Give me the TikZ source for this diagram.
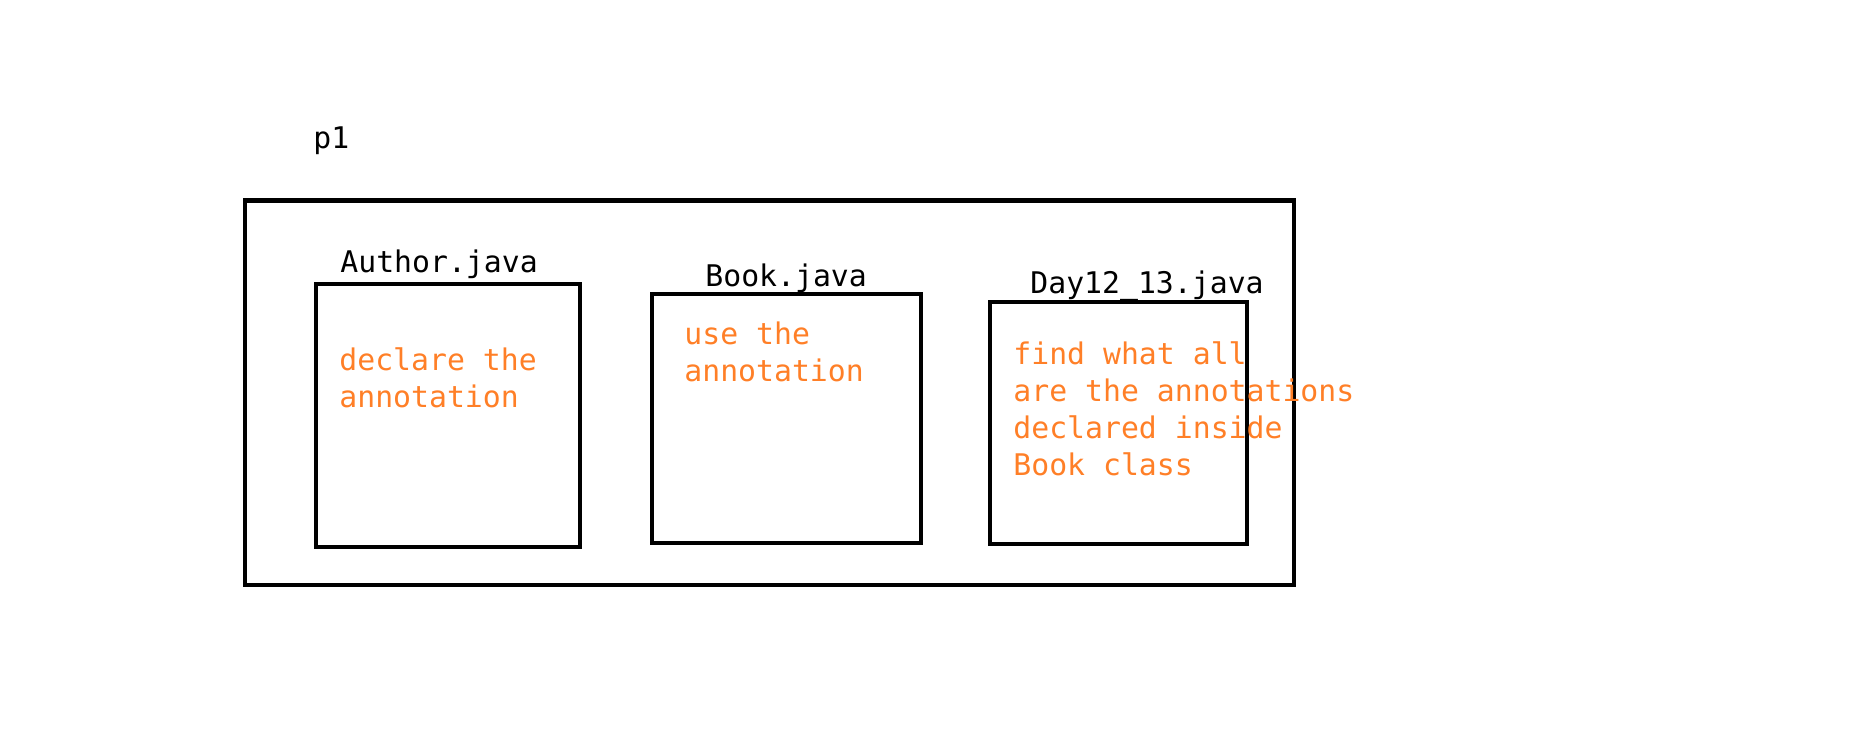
\documentclass[tikz,border=0pt]{standalone}
\usepackage{fontspec}
\setmonofont{DejaVu Sans Mono}
\usepackage{tikz}
\usetikzlibrary{positioning}
\definecolor{paintorange}{HTML}{FF7F27}

\begin{document}
\begin{tikzpicture}[x=0.5pt, y=-0.5pt,
                          packagenode/.style={rectangle, draw, line width=2.4pt, inner sep=0pt},
                          filenode/.style={rectangle, draw, line width=2.4pt, inner sep=0pt},
                          labeltext/.style={inner sep=0pt, anchor=west, font=\fontsize{14.9}{18.5}\selectfont\ttfamily},
                          notetext/.style={inner sep=0pt, anchor=north west, align=left, text=paintorange, font=\fontsize{14.9}{18.5}\selectfont\ttfamily},
                      ]
                      \useasboundingbox (0,0) rectangle (1850,743);
                      %Nodes
                      \node[packagenode, minimum width=524.5pt, minimum height=192.2pt] (p1box)   at (769.5,392.8) {};
                      \node[filenode, minimum width=132pt, minimum height=131.5pt]     (author)  at (448,415.5)   {};
                      \node[filenode, minimum width=134.5pt, minimum height=124.5pt]   (book)    at (786.5,418.5) {};
                      \node[filenode, minimum width=128.5pt, minimum height=121pt]     (day)     at (1118.5,423)  {};

                      %Labels
                      \node[labeltext] (p1)         at (313,140.5)  {p1};
                      \node[labeltext] (authorname) at (340,264.5)  {Author.java};
                      \node[labeltext] (bookname)   at (705,278.5)  {Book.java};
                      \node[labeltext] (dayname)    at (1030,285.5) {Day12\_13.java};

                      \node[notetext] (authornote) at (339,347.5) {declare the\\annotation};
                      \node[notetext] (booknote)   at (684,321.5) {use the\\annotation};
                      \node[notetext] (daynote)    at (1013,341.5) {find what all\\are the annotations\\declared inside\\Book class};
                  \end{tikzpicture}
\end{document}
